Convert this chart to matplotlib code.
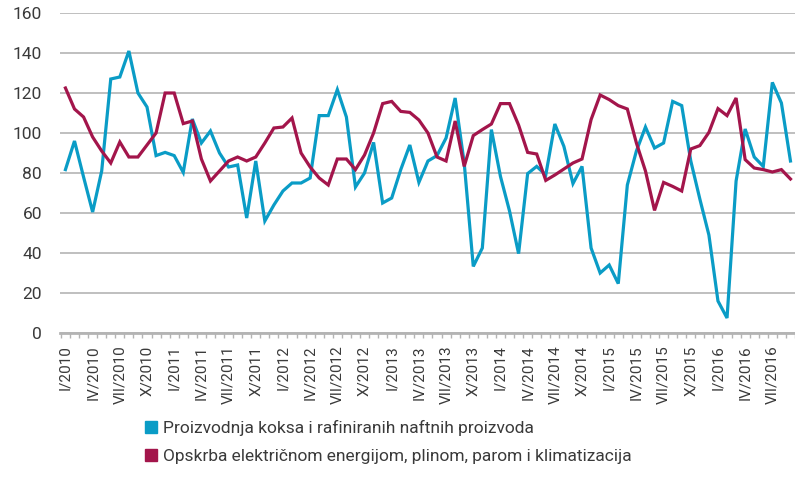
import matplotlib.pyplot as plt
import numpy as np
from matplotlib.lines import Line2D

plt.rcParams['font.family'] = ['Roboto', 'DejaVu Sans']

# months I/2010 .. IX/2016
roman = ['I', 'II', 'III', 'IV', 'V', 'VI', 'VII', 'VIII', 'IX', 'X', 'XI', 'XII']
months = [f'{roman[m]}/{y}' for y in range(2010, 2017) for m in range(12)][:81]

koks = [81.7, 96, 78, 60.5, 81, 127, 128, 141, 120, 113,
        88.7, 90.3, 88.7, 80.3, 107, 95, 101, 90, 83, 84,
        57.5, 86, 56, 64, 71, 75, 75, 77.5, 108.7, 108.7,
        121.7, 108, 73, 80, 95.3, 65, 67.5, 81.7, 94, 75.3,
        86, 88.7, 97.5, 117.5, 85, 33.3, 42.5, 101.7, 78.3, 61,
        39.7, 79.7, 83.3, 79, 104.5, 93.3, 74.7, 83.3, 42.5, 30,
        34, 24.7, 74, 91, 103, 92.5, 95, 115.8, 113.7, 86,
        67, 49, 16, 7.5, 76, 102, 88, 83.3, 125.3, 115, 86]

energija = [122.5, 112, 108, 98, 91, 85, 95.5, 88, 88, 94,
            100, 120, 120, 104.7, 106, 87, 76, 81, 86, 88,
            86, 88, 95, 102.5, 103, 107.5, 90, 83, 77.5, 74,
            87, 87, 81.7, 89, 100, 114.7, 115.8, 110.8, 110.3, 106.5,
            100, 88, 86, 106, 83.3, 98.7, 101.7, 104.5, 114.7, 114.7,
            104, 90.3, 89.5, 76.3, 79, 82, 85, 87, 106.7, 119,
            116.7, 113.7, 112, 95, 81, 61.3, 75.3, 73.3, 71, 92,
            93.7, 100.3, 112.2, 108.7, 117.5, 86.7, 82.5, 81.7, 80.5, 81.7, 77]

labels = ['Proizvodnja koksa i rafiniranih naftnih proizvoda',
          'Opskrba električnom energijom, plinom, parom i klimatizacija']
blue = '#0a9cc6'
red = '#a3154b'
txt = '#3a3a3a'

fig = plt.figure(figsize=(7.95, 4.94), dpi=100)
ax = fig.add_axes([60/795, 161/494, 735/795, 320/494])

x = np.arange(len(months))
ax.plot(x, koks, color=blue, lw=2.3, solid_joinstyle='miter')
ax.plot(x, energija, color=red, lw=2.3, solid_joinstyle='miter')

ax.set_ylim(0, 160)
ax.set_xlim(-0.6, 79.9)
ax.set_yticks(np.arange(0, 161, 20))
ax.grid(axis='y', color='#b4b4b4', lw=1.2)
ax.set_axisbelow(True)
for s in ['top', 'right', 'left']:
    ax.spines[s].set_visible(False)
ax.spines['bottom'].set_color('#b4b4b4')
ax.spines['bottom'].set_linewidth(2)

ax.set_xticks(x[::3])
ax.set_xticklabels(months[::3], rotation=90, fontsize=11, color=txt)
ax.set_xticks(np.arange(-0.5, len(months), 1), minor=True)
ax.tick_params(axis='x', which='major', length=0, pad=9)
ax.tick_params(axis='x', which='minor', length=3.5, width=1, color='#b4b4b4', direction='out')
ax.tick_params(axis='y', length=0, pad=13, labelsize=12.5, labelcolor=txt)

handles = [Line2D([], [], marker='s', ls='none', color=c, markersize=9) for c in (blue, red)]
fig.legend(handles, labels, loc='upper left', bbox_to_anchor=(127/795, 1 - 404/494),
           frameon=False, fontsize=12.5, labelcolor=txt, handletextpad=0.2,
           labelspacing=0.75, handlelength=1)

fig.savefig('out.png', dpi=100)
